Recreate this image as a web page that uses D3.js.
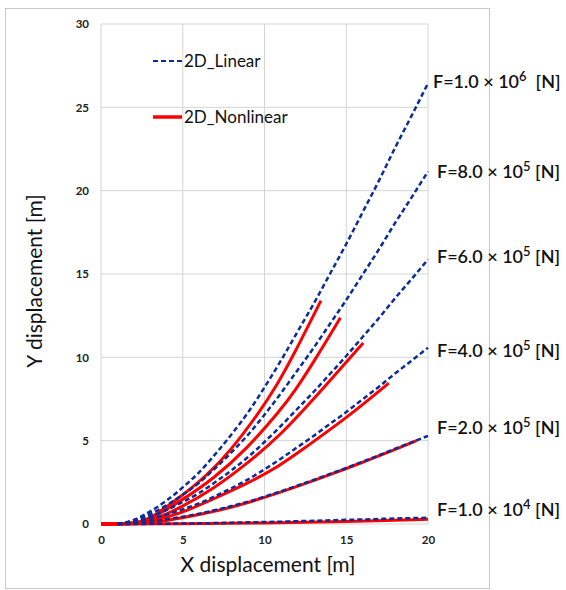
<!DOCTYPE html>
<html>
<head>
<meta charset="utf-8">
<script src="https://cdn.jsdelivr.net/npm/d3@7"></script>
<style>
  body { margin: 0; background: #fff; }
  svg { font-family: Lato, "Open Sans", sans-serif; }
</style>
</head>
<body>
<div id="chart"></div>
<script>
// x positions of the linear (2D_Linear) runs
var xLin = [0,1,2,3,4,5,6,7,8,9,10,11,12,13,14,15,16,17,18,19,20];

// 2D_Linear, y displacement [m]
var lin1e6 = [0,0,0.25,0.75,1.4,2.2,3.1,4.2,5.4,6.7,8.2,9.8,11.5,13.2,15.0,16.8,18.7,20.6,22.6,24.5,26.45];
var lin8e5 = [0,0,0.2,0.6,1.12,1.76,2.48,3.36,4.32,5.36,6.56,7.84,9.2,10.56,12.0,13.44,14.96,16.48,18.08,19.6,21.16];
var lin6e5 = [0,0,0.15,0.45,0.84,1.32,1.86,2.52,3.24,4.02,4.92,5.88,6.9,7.92,9.0,10.08,11.22,12.36,13.56,14.7,15.87];
var lin4e5 = [0,0,0.1,0.3,0.56,0.88,1.24,1.68,2.16,2.68,3.28,3.92,4.6,5.28,6.0,6.72,7.48,8.24,9.04,9.8,10.58];
var lin2e5 = [0,0,0.05,0.15,0.28,0.44,0.62,0.84,1.08,1.34,1.64,1.96,2.3,2.64,3.0,3.36,3.74,4.12,4.52,4.9,5.29];
var lin1e4 = [0,0,0,0.01,0.02,0.03,0.04,0.06,0.08,0.1,0.12,0.14,0.17,0.19,0.22,0.25,0.27,0.3,0.33,0.35,0.38];

// 2D_Nonlinear runs, each with its own x points
var nl1e6x = [0,2.4,3.4,4.83,6.46,7.89,9.72,10.74,11.76,13.45];
var nl1e6y = [0,0,0.6,1.6,2.9,4.35,6.75,8.3,10.1,13.4];
var nl8e5x = [0,2.5,3.2,4.83,6.87,8.91,10.95,11.87,13,14.64];
var nl8e5y = [0,0,0.4,1.35,2.7,4.5,6.8,8.0,9.7,12.37];
var nl6e5x = [0,2.5,3.2,4.83,6.87,8.91,10.95,13.1,14.62,16.04];
var nl6e5y = [0,0,0.25,0.95,2.1,3.6,5.3,7.6,9.3,10.86];
var nl4e5x = [0,2.5,4.83,6.87,8.91,10.95,12.37,15.07,17.6];
var nl4e5y = [0,0,0.6,1.5,2.4,3.5,4.5,6.4,8.45];
var nl2e5x = [0,2.5,4,6,8,10,12,14,16,18,19.3];
var nl2e5y = [0,0,0.2,0.55,1.0,1.58,2.25,2.95,3.7,4.48,5.0];
var nl1e4x = [0,5,10,15,20];
var nl1e4y = [0,0.01,0.06,0.15,0.28];

// force labels at the end of each linear curve
var forceMant = ["1.0","8.0","6.0","4.0","2.0","1.0"];
var forceExp = ["6","5","5","5","5","4"];
var forceLabelY = [26.5, 21.1, 16.0, 10.4, 5.75, 0.85];

var xTicks = [0,5,10,15,20];
var yTicks = [0,5,10,15,20,25,30];

var width = 566, height = 590;
var svg = d3.select("#chart").append("svg")
    .attr("width", width)
    .attr("height", height);

// outer frame
svg.append("rect")
    .attr("x", 5.5).attr("y", 8.5)
    .attr("width", 484).attr("height", 580)
    .attr("fill", "none")
    .attr("stroke", "#c8c8c8")
    .attr("stroke-width", 1);

var x = d3.scaleLinear().domain([0, 20]).range([101, 428]);
var y = d3.scaleLinear().domain([0, 30]).range([524, 24]);

// grid
svg.append("g").selectAll("line").data(xTicks).join("line")
    .attr("x1", d => x(d)).attr("x2", d => x(d))
    .attr("y1", y(0)).attr("y2", y(30))
    .attr("stroke", "#d4d4d4").attr("stroke-width", 1);
svg.append("g").selectAll("line").data(yTicks).join("line")
    .attr("x1", x(0)).attr("x2", x(20))
    .attr("y1", d => y(d)).attr("y2", d => y(d))
    .attr("stroke", "#d4d4d4").attr("stroke-width", 1);

// axes (labels only, Excel style)
var xAxis = svg.append("g")
    .attr("transform", "translate(0," + y(0) + ")")
    .call(d3.axisBottom(x).tickValues(xTicks).tickSize(0).tickPadding(12));
var yAxis = svg.append("g")
    .attr("transform", "translate(" + x(0) + ",0)")
    .call(d3.axisLeft(y).tickValues(yTicks).tickSize(0).tickPadding(12));
[xAxis, yAxis].forEach(a => {
    a.select(".domain").remove();
    a.selectAll("text")
        .attr("font-family", "Lato, sans-serif")
        .attr("font-size", 11.5)
        .attr("font-weight", "bold")
        .attr("fill", "#222");
});

svg.append("text")
    .attr("x", 268).attr("y", 572)
    .attr("text-anchor", "middle")
    .attr("font-size", 21)
    .attr("fill", "#111")
    .text("X displacement [m]");
svg.append("text")
    .attr("transform", "translate(42,281) rotate(-90)")
    .attr("text-anchor", "middle")
    .attr("font-size", 21)
    .attr("fill", "#111")
    .text("Y displacement [m]");

var lineLin = d3.line().x(d => x(d[0])).y(d => y(d[1])).curve(d3.curveMonotoneX);
var lineNl = d3.line().x(d => x(d[0])).y(d => y(d[1])).curve(d3.curveBasis);

var linSeries = [lin1e6, lin8e5, lin6e5, lin4e5, lin2e5, lin1e4];
var nlSeries = [[nl1e6x, nl1e6y], [nl8e5x, nl8e5y], [nl6e5x, nl6e5y],
                [nl4e5x, nl4e5y], [nl2e5x, nl2e5y], [nl1e4x, nl1e4y]];

var blue = "#0a2d99", red = "#ff0000";

svg.append("g").selectAll("path").data(nlSeries).join("path")
    .attr("d", s => lineNl(d3.zip(s[0], s[1])))
    .attr("fill", "none")
    .attr("stroke", red)
    .attr("stroke-width", 3);

svg.append("g").selectAll("path").data(linSeries).join("path")
    .attr("d", s => lineLin(d3.zip(xLin.slice(1), s.slice(1))))
    .attr("fill", "none")
    .attr("stroke", blue)
    .attr("stroke-width", 2.5)
    .attr("stroke-dasharray", "5,3");

// force labels
var lab = svg.append("g").selectAll("text").data(forceMant).join("text")
    .attr("x", (d, i) => i == 0 ? 433 : 437)
    .attr("y", (d, i) => y(forceLabelY[i]) + 6)
    .attr("font-size", 18)
    .attr("font-weight", 600)
    .attr("fill", "#111");
lab.append("tspan").text(d => "F=" + d + " \u00d7 10");
lab.append("tspan").attr("dy", -7).attr("font-size", 13).text((d, i) => forceExp[i]);
lab.append("tspan").attr("dy", 7).text((d, i) => i == 0 ? "\u00a0 [N]" : " [N]");

// legend
var legend = [["2D_Linear", blue, "5,3", 61], ["2D_Nonlinear", red, null, 117]];
var lg = svg.append("g").selectAll("g").data(legend).join("g");
lg.append("line")
    .attr("x1", 153).attr("x2", 182)
    .attr("y1", d => d[3]).attr("y2", d => d[3])
    .attr("stroke", d => d[1])
    .attr("stroke-width", d => d[2] ? 2.2 : 3.5)
    .attr("stroke-dasharray", d => d[2]);
lg.append("text")
    .attr("x", 184).attr("y", d => d[3] + 6)
    .attr("font-size", 17)
    .attr("fill", "#111")
    .text(d => d[0]);
</script>
</body>
</html>
